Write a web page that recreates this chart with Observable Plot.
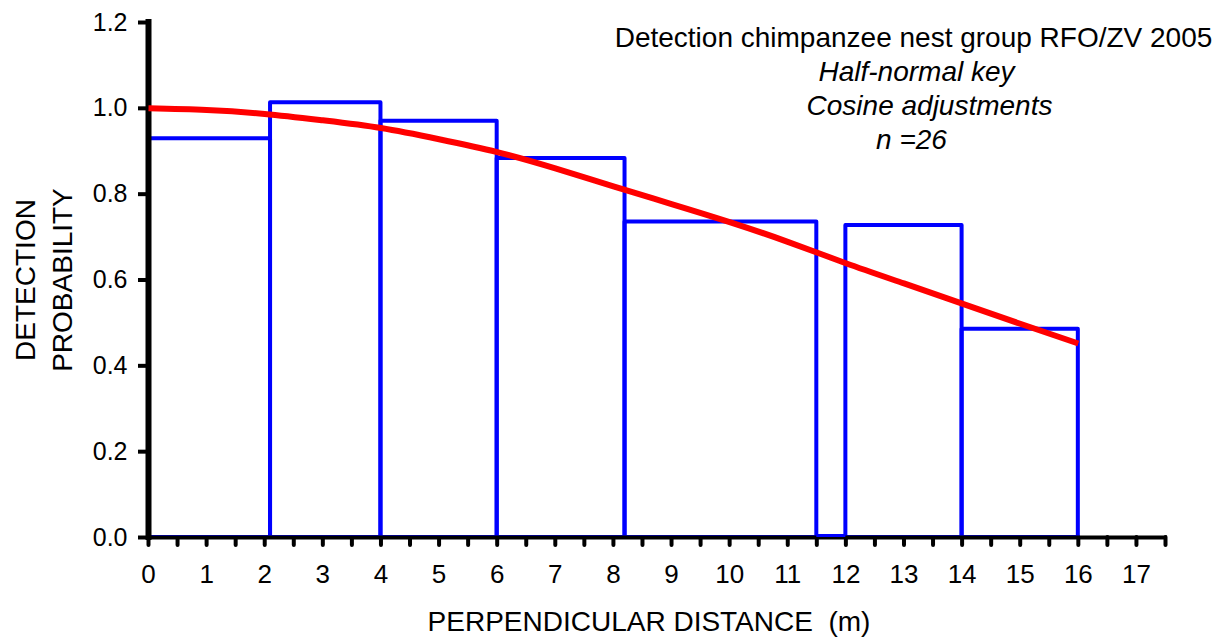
<!DOCTYPE html>
<html>
<head>
<meta charset="utf-8">
<script src="https://cdn.jsdelivr.net/npm/d3@7"></script>
<script src="https://cdn.jsdelivr.net/npm/@observablehq/plot@0.6"></script>
<style>
  html, body { margin: 0; padding: 0; background: #fff; }
  #chart svg { display: block; }
</style>
</head>
<body>
<div id="chart"></div>
<script>
// Observed detection probability per distance interval (histogram bins)
const binStart  = [0, 2.1, 4.0, 6.0, 8.2, 11.5, 12.0, 14.0];
const binEnd    = [2.1, 4.0, 6.0, 8.2, 11.5, 12.0, 14.0, 16.0];
const binHeight = [0.929, 1.013, 0.970, 0.883, 0.735, 0, 0.727, 0.485];

// Fitted detection function g(x): half-normal key with cosine adjustments
const fitDistance    = [0, 1, 2, 3, 4, 5, 6, 7, 8, 9, 10, 11, 12, 13, 14, 15, 16];
const fitProbability = [1.0, 0.996, 0.987, 0.972, 0.954, 0.928, 0.898, 0.860, 0.818,
                        0.777, 0.735, 0.689, 0.639, 0.592, 0.545, 0.498, 0.452];

// Axis ticks
const xTicks = d3.range(0, 35 + 1).map(i => i / 2);   // 0, 0.5, ... 17.5
const yTicks = [0, 0.2, 0.4, 0.6, 0.8, 1.0, 1.2];

// Text
const titleLines = ["Detection chimpanzee nest group RFO/ZV 2005", "Half-normal key", "Cosine adjustments", "n =26"];
const xLabel = "PERPENDICULAR DISTANCE  (m)";
const yLabel = ["DETECTION", "PROBABILITY"];

const bins = binStart.map((x1, i) => ({x1, x2: binEnd[i], h: binHeight[i]}));
const fit = fitDistance.map((x, i) => ({x, y: fitProbability[i]}));

const font = "Liberation Sans, Arial, Helvetica, sans-serif";
const blue = "#0000ff";

const chart = Plot.plot({
  width: 1226,
  height: 639,
  marginLeft: 148,
  marginRight: 61,
  marginTop: 22,
  marginBottom: 102,
  style: {fontFamily: font, background: "#fff", color: "#000"},
  x: {domain: [0, 17.5]},
  y: {domain: [0, 1.2]},
  marks: [
    Plot.axisY({
      ticks: yTicks, tickFormat: d3.format(".1f"), tickSize: 10, tickPadding: 11,
      fontSize: 25, strokeWidth: 4, label: null
    }),
    Plot.axisX({
      ticks: xTicks, tickFormat: d => Number.isInteger(d) ? String(d) : "",
      tickSize: 8, tickPadding: 19, fontSize: 26, strokeWidth: 4,
      strokeLinecap: "round", label: null
    }),
    // histogram bars as outlined rectangles
    Plot.rect(bins, {x1: "x1", x2: "x2", y1: 0, y2: "h", fill: "none", stroke: blue, strokeWidth: 4, strokeLinejoin: "round"}),
    // axis lines
    Plot.ruleX([0], {stroke: "#000", strokeWidth: 6, strokeLinecap: "square"}),
    Plot.ruleY([0], {stroke: "#000", strokeWidth: 4, strokeLinecap: "square"}),
    // empty interval sits just on the baseline
    Plot.ruleY(bins.filter(d => d.h === 0), {x1: "x1", x2: "x2", y: "h", dy: -2, stroke: blue, strokeWidth: 3}),
    // fitted detection function
    Plot.line(fit, {x: "x", y: "y", curve: "natural", stroke: "#ff0000", strokeWidth: 6, strokeLinecap: "butt"}),
    // title block
    Plot.text([titleLines[0]], {frameAnchor: "top-left", dx: 765, dy: 16, textAnchor: "middle", lineAnchor: "middle", fontSize: 28}),
    Plot.text([titleLines[1]], {frameAnchor: "top-left", dx: 768, dy: 50, textAnchor: "middle", lineAnchor: "middle", fontSize: 28, fontStyle: "italic"}),
    Plot.text([titleLines[2]], {frameAnchor: "top-left", dx: 781, dy: 84, textAnchor: "middle", lineAnchor: "middle", fontSize: 28, fontStyle: "italic"}),
    Plot.text([titleLines[3]], {frameAnchor: "top-left", dx: 763, dy: 118, textAnchor: "middle", lineAnchor: "middle", fontSize: 28, fontStyle: "italic"}),
    // axis titles
    Plot.text([xLabel], {frameAnchor: "bottom", dx: -8, dy: 85, textAnchor: "middle", lineAnchor: "middle", fontSize: 28}),
    Plot.text([yLabel.join("\n")], {frameAnchor: "left", dx: -107, rotate: -90, textAnchor: "middle", lineAnchor: "middle", lineHeight: 1.35, fontSize: 28})
  ]
});

document.getElementById("chart").appendChild(chart);
</script>
</body>
</html>
